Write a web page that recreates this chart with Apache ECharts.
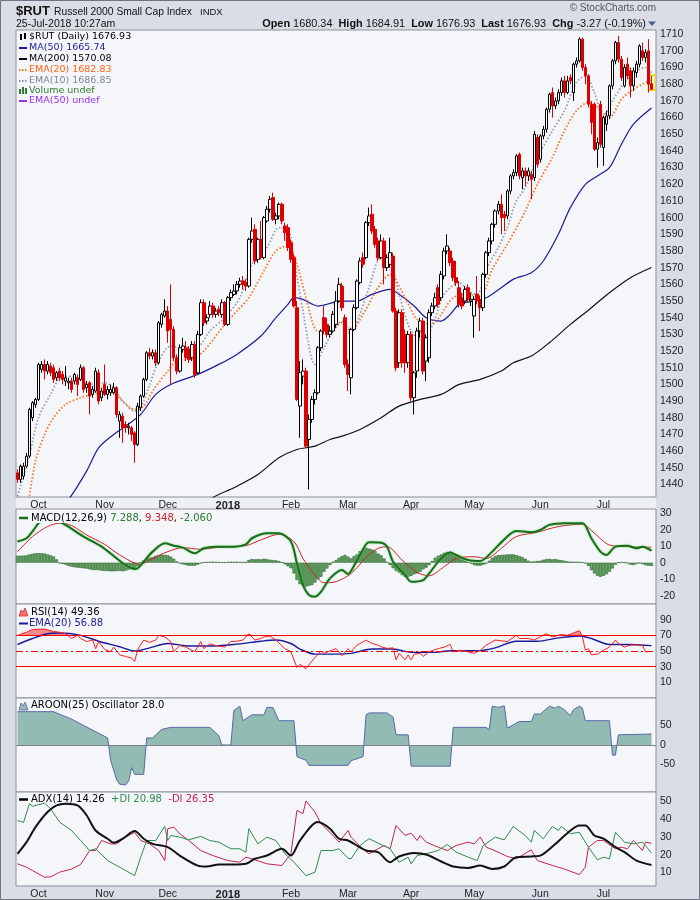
<!DOCTYPE html>
<html><head><meta charset="utf-8">
<script src="https://cdn.jsdelivr.net/npm/echarts@6/dist/echarts.min.js"></script>
<style>html,body{margin:0;padding:0;background:#d9dde6;}#c{width:700px;height:900px;}</style>
</head><body><div id="c"></div>
<script>
// ---- trading calendar ----
const firstDay = '2017-09-21', lastDay = '2018-07-25';
const holidays = ['2017-11-23','2017-12-25','2018-01-01','2018-01-15','2018-02-19','2018-03-30','2018-05-28','2018-07-04'];
const monthNames = ['2018','Feb','Mar','Apr','May','Jun','Jul','Aug','Sep','Oct','Nov','Dec'];
const dates = [];
(function(){
  let d = new Date(firstDay + 'T00:00:00Z'); const end = new Date(lastDay + 'T00:00:00Z');
  while (d <= end) { const s = d.toISOString().slice(0,10); const w = d.getUTCDay();
    if (w !== 0 && w !== 6 && holidays.indexOf(s) < 0) dates.push(s);
    d = new Date(d.getTime() + 86400000); }
})();

// ---- daily candles [open, high, low, close] ----
const candles = [
[1447,1449,1441,1443],[1443,1452,1441,1451],[1445,1453,1443,1451],[1451,1459,1450,1457],[1457,1486,1456,1485],
[1480,1490,1478,1489],[1488,1492,1486,1491],[1491,1513,1490,1512],[1509,1514,1507,1512],[1512,1515,1503,1508],
[1508,1514,1506,1512],[1511,1513,1505,1507],[1510,1512,1501,1503],[1504,1508,1502,1507],[1508,1510,1502,1504],
[1506,1508,1500,1503],[1502,1511,1499,1504],[1501,1504,1497,1502],[1502,1504,1495,1497],[1502,1507,1500,1506],
[1504,1506,1493,1500],[1503,1512,1502,1510],[1510,1511,1495,1497],[1498,1502,1495,1500],[1501,1502,1482,1493],
[1494,1499,1492,1497],[1496,1510,1495,1508],[1507,1509,1488,1490],[1492,1498,1490,1496],[1500,1512,1493,1494],
[1494,1499,1491,1497],[1495,1500,1493,1497],[1495,1501,1494,1498],[1498,1499,1480,1482],[1478,1484,1468,1482],
[1481,1483,1465,1474],[1476,1478,1471,1474],[1474,1477,1470,1475],[1474,1475,1466,1470],[1471,1472,1453,1464],
[1464,1489,1463,1487],[1486,1494,1484,1493],[1493,1504,1492,1503],[1503,1520,1502,1519],[1519,1522,1515,1517],
[1517,1521,1515,1519],[1519,1521,1511,1513],[1513,1538,1512,1537],[1536,1543,1534,1542],[1541,1551,1540,1544],
[1544,1547,1525,1532],[1539,1560,1500,1533],[1533,1535,1514,1516],[1516,1518,1506,1508],[1508,1524,1507,1522],
[1521,1528,1519,1523],[1522,1526,1514,1516],[1521,1523,1513,1515],[1516,1526,1514,1524],[1524,1526,1504,1506],
[1507,1532,1506,1530],[1530,1551,1529,1549],[1549,1551,1535,1537],[1538,1542,1536,1540],[1542,1550,1540,1547],
[1547,1549,1540,1542],[1542,1546,1540,1544],[1545,1547,1541,1543],[1542,1551,1540,1549],[1549,1550,1535,1536],
[1536,1553,1535,1552],[1552,1557,1550,1555],[1554,1560,1553,1556],[1556,1562,1554,1560],[1560,1564,1558,1562],
[1562,1565,1557,1560],[1561,1563,1556,1559],[1559,1588,1558,1587],[1587,1600,1585,1592],[1593,1596,1572,1574],
[1575,1588,1573,1587],[1587,1598,1575,1576],[1576,1601,1575,1600],[1598,1607,1597,1605],[1605,1613,1603,1611],
[1612,1615,1598,1599],[1599,1603,1596,1601],[1601,1609,1599,1608],[1608,1609,1596,1598],[1595,1597,1586,1591],
[1594,1596,1580,1582],[1585,1587,1573,1575],[1576,1578,1546,1547],[1546,1550,1490,1491],[1487,1514,1468,1507],
[1505,1515,1500,1508],[1508,1510,1462,1463],[1467,1482,1437,1479],[1479,1493,1477,1491],[1491,1497,1488,1495],
[1495,1523,1494,1522],[1522,1533,1520,1532],[1540,1547,1530,1532],[1536,1540,1528,1530],[1530,1535,1528,1532],
[1532,1544,1531,1542],[1536,1556,1534,1550],[1550,1564,1549,1560],[1559,1561,1544,1546],[1540,1542,1510,1512],
[1512,1515,1496,1506],[1504,1534,1494,1533],[1533,1548,1532,1546],[1546,1563,1545,1562],[1561,1576,1560,1574],
[1576,1579,1570,1572],[1576,1598,1575,1597],[1597,1606,1595,1601],[1602,1608,1590,1592],[1593,1595,1582,1584],
[1586,1588,1574,1576],[1576,1590,1575,1586],[1586,1588,1560,1570],[1570,1578,1568,1576],[1572,1588,1570,1579],
[1577,1579,1543,1544],[1544,1546,1508,1510],[1513,1545,1510,1543],[1543,1545,1510,1513],[1530,1533,1507,1513],
[1513,1532,1510,1530],[1530,1532,1490,1492],[1492,1508,1482,1507],[1508,1534,1504,1532],[1532,1540,1528,1538],
[1538,1540,1506,1508],[1514,1530,1502,1528],[1516,1545,1513,1543],[1543,1549,1541,1547],[1547,1555,1545,1552],
[1558,1560,1546,1548],[1552,1568,1550,1566],[1565,1582,1563,1580],[1580,1590,1578,1583],[1580,1582,1571,1573],
[1574,1576,1562,1564],[1564,1574,1559,1561],[1558,1562,1546,1548],[1552,1555,1545,1547],[1550,1559,1548,1557],
[1558,1560,1549,1551],[1550,1555,1547,1551],[1541,1553,1528,1551],[1554,1565,1548,1550],[1551,1553,1532,1546],
[1546,1567,1544,1566],[1566,1580,1564,1579],[1579,1588,1577,1586],[1586,1597,1584,1596],[1596,1605,1594,1604],
[1604,1610,1602,1608],[1608,1614,1590,1600],[1602,1604,1592,1600],[1601,1617,1599,1616],[1616,1626,1614,1625],
[1625,1629,1623,1627],[1627,1638,1625,1637],[1638,1639,1623,1625],[1624,1630,1617,1628],[1628,1630,1619,1625],
[1625,1630,1622,1628],[1626,1628,1611,1623],[1624,1652,1622,1650],[1648,1650,1630,1632],[1635,1650,1633,1649],
[1649,1655,1647,1653],[1653,1666,1651,1665],[1665,1675,1663,1674],[1675,1678,1660,1667],[1667,1672,1665,1670],
[1670,1677,1668,1675],[1675,1684,1673,1682],[1682,1685,1672,1675],[1675,1685,1674,1682],[1684,1686,1680,1682],
[1675,1693,1670,1692],[1692,1696,1690,1694],[1694,1708,1693,1707],[1707,1708,1688,1690],[1690,1692,1680,1685],
[1685,1686,1666,1668],[1668,1670,1650,1657],[1668,1669,1640,1641],[1641,1648,1630,1645],[1668,1670,1642,1644],
[1642,1661,1631,1660],[1656,1664,1652,1661],[1661,1680,1659,1679],[1679,1695,1677,1694],[1694,1706,1692,1705],
[1705,1709,1693,1695],[1695,1697,1682,1684],[1679,1692,1678,1690],[1692,1696,1683,1685],[1688,1690,1672,1679],
[1679,1690,1676,1688],[1687,1694,1684,1692],[1692,1704,1690,1703],[1700,1705,1694,1696],[1696,1701,1693,1699],
[1700,1707,1675,1680],[1680.34,1684.91,1676.93,1676.93]
];

// ---- overlay readings [dayIndex, value] ----
const ma50Pts = [[12,1422],[17,1431],[23,1448],[27,1462],[32,1470],[36,1475],[41,1482],[46,1494],[51,1500],[60,1506],[67,1512],[73,1518],[81,1529],[86,1540],[90,1548],[92,1552],[95,1551],[100,1547],[105,1549],[108,1550],[113,1550],[118,1554],[124,1557],[127,1554],[132,1547],[136,1540],[141,1538],[144,1542],[147,1548],[152,1550],[156,1552],[161,1558],[165,1563],[171,1567],[175,1574],[180,1590],[184,1606],[189,1620],[193,1625],[197,1630],[201,1644],[205,1656],[211,1665.74]];
const ma200Pts = [[58,1418],[65,1432],[72,1438],[80,1446],[87,1456],[93,1461],[99,1463],[104,1467],[108,1469],[114,1473],[121,1480],[127,1487],[134,1491],[141,1494],[147,1500],[154,1503],[161,1508],[165,1513],[171,1517],[177,1525],[184,1536],[191,1546],[197,1555],[204,1564],[211,1570.08]];
const ema20Pts = [[3,1425],[4,1434],[6,1454],[9,1470],[12,1480],[16,1488],[21,1492],[25,1494],[31,1496],[35,1490],[39,1485],[42,1487],[45,1496],[50,1508],[53,1514],[58,1515],[62,1520],[69,1536],[73,1544],[77,1552],[82,1568],[86,1580],[90,1583],[93,1572],[96,1552],[100,1532],[104,1532],[108,1537],[111,1532],[115,1542],[120,1558],[124,1566],[129,1552],[133,1539],[138,1536],[141,1542],[145,1552],[150,1554],[154,1553],[158,1569],[163,1584],[167,1597],[169,1604],[173,1620],[178,1636],[182,1652],[186,1664],[190,1669],[193,1666],[197,1660],[201,1671],[205,1677],[211,1682.83]];
const ema10Pts = [[0,1433],[4,1458],[7,1480],[11,1494],[15,1505],[20,1504],[24,1500],[29,1501],[32,1498],[35,1490],[39,1484],[41,1486],[44,1500],[47,1514],[51,1523],[56,1521],[60,1522],[64,1532],[69,1540],[74,1552],[78,1572],[83,1582],[87,1594],[90,1593],[92,1576],[95,1544],[99,1512],[102,1522],[106,1535],[108,1538],[110,1531],[112,1533],[117,1558],[121,1576],[124,1574],[127,1554],[131,1532],[135,1526],[139,1540],[142,1554],[147,1561],[150,1556],[153,1554],[156,1569],[160,1582],[163,1594],[166,1610],[169,1618],[173,1636],[178,1652],[182,1664],[186,1681],[189,1685],[192,1675],[195,1661],[198,1670],[202,1681],[206,1688],[209,1690],[211,1686.85]];

// ---- MACD(12,26,9) ----
const macdPts = [[0,12.8],[3,14.8],[5,19],[7,23.9],[9,27.5],[11,29],[13,26.5],[14,24.9],[16,22.9],[22,15.8],[28,9.7],[33,2.6],[36,-1.4],[39,-3.8],[40,-3.4],[42,0.6],[45,6.7],[49,11.7],[52,10.3],[55,9.1],[59,5.7],[62,8.7],[66,9.7],[72,9.7],[76,11.1],[78,14.8],[83,17.8],[87,17.8],[91,12.8],[93,-0.4],[95,-13.5],[97,-19.6],[99,-20.6],[101,-17.6],[104,-9.5],[108,-4.4],[110,-6.8],[111,-5],[114,4.7],[117,12.3],[121,12.1],[123,9.7],[125,0.6],[129,-7.5],[131,-11.5],[135,-10.5],[137,-6.5],[141,2.6],[144,6.1],[146,4.7],[150,1.6],[154,1],[158,6.7],[161,12.3],[166,19.2],[171,18.4],[174,19.8],[177,22.9],[182,23.9],[188,23.9],[191,14.8],[194,6.7],[196,4.7],[199,9.7],[203,10.3],[206,8.7],[208,9.7],[211,7.288]];
const signalPts = [[0,6.7],[5,15.8],[10,21.9],[14,23.9],[18,22.5],[23,16.8],[29,11.1],[34,4.7],[41,-1],[44,1.6],[50,6.7],[55,9.1],[61,8.1],[66,9.1],[76,10.3],[81,13.8],[87,17.2],[92,12.8],[95,2.6],[99,-7.5],[102,-12.1],[105,-11.9],[110,-7.9],[113,-3],[116,3.2],[120,8.7],[123,9.7],[128,1.6],[133,-5.9],[137,-7.9],[142,-2.4],[146,2.6],[152,3.6],[156,2.6],[161,8.7],[166,15.8],[173,18.4],[180,21.9],[188,23.3],[192,17.8],[197,10.7],[203,9.7],[211,9.348]];
const macdHist = [
4.2,4.2,4.3,4.4,5.0,5.4,5.7,5.8,5.7,5.5, 5.0,4.5,3.8,2.0,-0.3,-0.8,-1.2,-2.0,-2.4,-2.8,
-3.0,-3.2,-3.4,-3.6,-4.0,-4.4,-4.4,-4.5,-4.8,-5.0, -5.0,-5.2,-5.2,-5.0,-5.0,-5.2,-4.8,-4.2,-3.8,
-3.4,-2.2,0.0,1.4,2.6,3.0,3.4,4.2,4.7,4.9,4.7,
4.5,3.7,2.4,0.8,-0.4,-1.0,-1.4,-1.8,-1.8,-1.8, -1.2,-0.4,0.2,0.4,0.5,0.6,0.5,0.3,0.2,0.2,
0.4,0.5,0.5,0.6,0.4,0.3,0.5,1.6,2.2,2.0, 2.2,2.0,2.4,2.2,1.8,1.6,1.4,1.0,0.2,-1.0,
-2.2,-3.4,-6.5,-10.5,-13.0,-14.0,-14.5,-14.0,-13.5,-12.0, -10.0,-8.5,-5.5,-3.5,-1.4,0.6,1.6,3.0,4.0,4.7,
3.7,2.6,4.0,5.0,7.0,8.0,9.1,8.5,8.0,7.0, 5.5,4.5,2.6,0.5,-1.5,-3.4,-5.0,-6.0,-7.5,-8.5,
-8.5,-8.0,-7.0,-6.5,-5.5,-4.0,-3.0,-1.4,1.0,3.0, 4.2,5.0,6.0,6.5,6.7,5.5,4.5,3.0,2.0,1.2,
0.3,-0.5,-1.5,-1.8,-1.8,-1.2,-0.5,1.2,3.0,4.0, 4.5,4.7,4.8,5.0,5.1,5.0,4.6,4.0,3.4,2.4,
1.2,0.6,0.8,1.0,1.2,1.8,2.2,2.3,2.0,2.2, 1.8,1.5,1.2,0.8,0.6,0.6,0.5,0.4,0.2,-0.4,
-2.0,-4.5,-6.5,-8.0,-8.5,-8.0,-7.0,-5.5,-3.5,-1.2, 0.2,0.4,0.2,-0.4,-1.2,-1.4,-0.8,-0.3,-0.8,-1.5,
-1.8,-2.06];

// ---- RSI(14) and its EMA(20) ----
const rsiPts = [[0,70],[3,74],[5,77.5],[9,78],[12,75],[14,74],[16,72],[18,66],[20,70],[21,66],[23,62],[25,64],[26,53],[27,62],[29,52],[31,49],[32,55],[34,45],[36,43],[38,41],[39,36.7],[40,52],[42,64],[44,61],[46,64],[47,70],[49,68],[51,62],[52,49],[54,57],[56,55],[59,49],[61,62],[62,53],[64,59],[66,57],[69,55],[71,62],[73,62.5],[75,64],[77,72],[79,64],[81,66],[82,68],[84,69],[86,64],[89,53],[91,49],[93,29],[94,33],[96,27.5],[97,32.5],[99,41.7],[101,50],[102,47],[104,50],[106,53],[108,44],[110,53],[111,49],[113,57.5],[115,61.7],[116,64],[118,59.6],[120,57.5],[121,55.4],[123,53.3],[125,54],[126,38.7],[127,47],[129,38.7],[130,45],[131,38.7],[132,46],[134,47],[135,43],[137,49],[140,53],[142,55],[144,58.3],[145,49],[147,51],[150,49],[152,47],[154,51],[156,57.5],[159,64],[163,62],[166,70],[167,66],[170,66],[172,64],[174,68],[176,72],[178,68],[181,71],[183,70],[185,73],[187,76],[188,68],[189,51],[190,53],[191,45],[193,46],[195,51],[197,55],[199,64],[200,59.6],[202,55],[204,57.5],[206,58],[208,57],[209,49],[211,49.36]];
const rsiEmaPts = [[0,58.3],[5,66],[10,72],[14,72.9],[21,70],[27,62.5],[34,55.4],[39,50],[44,54],[50,59.6],[56,56.7],[63,56.3],[72,58.3],[81,62.5],[86,64],[91,59.6],[94,52.5],[99,46],[105,46],[111,47],[118,52.5],[125,52.5],[131,48.3],[139,48.3],[144,50.4],[153,50.4],[159,54],[166,62.5],[173,62.5],[180,66.7],[187,69.2],[191,66],[197,58.3],[203,58.3],[211,56.88]];

// ---- Aroon(25) oscillator ----
const aroonPts = [[0,85],[12,85],[18,66],[30,18],[31,-40],[32,-64],[33,-89],[34,-100],[36,-102],[37,-92],[38,-58],[39,-75],[42,-75],[43,18],[45,18],[46,26],[48,40],[51,45],[64,45],[67,24],[68,0],[71,0],[72,88],[74,99],[75,62],[78,77],[82,77],[83,96],[85,96],[87,62],[92,62],[93,-30],[96,-39],[97,-52],[110,-52],[111,-40],[115,-30],[116,77],[117,82],[123,82],[125,71],[126,26],[130,26],[131,-54],[144,-54],[145,45],[156,45],[157,39],[158,99],[160,96],[162,100],[163,43],[167,60],[171,60],[172,79],[174,79],[177,99],[179,94],[180,99],[182,90],[184,75],[185,90],[187,99],[188,94],[189,62],[197,62],[198,-26],[199,-26],[200,26],[211,28]];

// ---- ADX(14), +DI, -DI ----
const adxPts = [[0,20.5],[3,27],[6,35.4],[10,43.8],[13,47.5],[16,48.5],[20,47.5],[23,42],[26,33.5],[30,28.9],[32,26.6],[35,28.9],[39,33.2],[42,28.9],[45,26],[50,24.2],[54,19.5],[60,13.9],[63,13.4],[67,14.5],[72,14.5],[76,14.9],[79,17.7],[83,19.5],[88,23.3],[91,19.5],[94,27.9],[100,38.2],[104,34.5],[107,28.9],[110,27.9],[116,22.3],[120,21.4],[124,15.8],[127,19],[132,21],[136,20.1],[141,16.2],[145,13.4],[150,12.6],[154,13.9],[158,12],[162,13.4],[166,18.6],[171,19],[174,19.5],[179,26],[183,32],[187,36.3],[189,36.3],[192,30.7],[195,28.9],[199,24.2],[202,21.4],[206,16.7],[211,14.26]];
const plusDiPts = [[0,39.1],[2,38],[4,48.5],[5,47],[9,48.8],[11,45.7],[14,38.2],[18,33.5],[21,27.9],[24,22.3],[26,23.3],[30,16.7],[33,13.9],[36,11.1],[39,8.3],[41,18.6],[43,27.9],[46,27.9],[49,35.8],[50,27.9],[51,30.7],[54,29.8],[57,28.3],[61,30.2],[64,27.9],[67,27],[71,23.3],[74,23.3],[76,21.4],[77,34.5],[80,26],[83,29.8],[86,27.9],[89,20.5],[92,15.8],[96,8.3],[99,10.2],[101,22.3],[105,22.3],[107,23.3],[110,18],[111,17.7],[114,25.1],[117,28.9],[121,25.7],[124,23.3],[127,15.8],[130,18.6],[131,14.9],[133,19.5],[136,20.5],[140,22.3],[143,25.7],[146,21.4],[150,18.6],[153,16.7],[155,25.1],[159,29.8],[162,28.3],[165,35.8],[169,30.7],[171,27],[172,33.5],[175,28.9],[178,35.8],[180,33.5],[181,35.8],[184,31.7],[187,32.5],[190,24.2],[193,17.1],[195,18.6],[197,17.7],[199,32.5],[202,27],[205,26],[208,27],[209,25],[211,20.98]];
const minusDiPts = [[0,14.9],[3,13],[5,11.1],[9,7.4],[11,7.6],[14,10.2],[18,12],[21,14.5],[24,22.3],[26,22.3],[28,27.9],[31,26],[33,26],[36,29.8],[39,32.5],[41,27.9],[44,26],[47,22.3],[49,16.7],[50,34.5],[52,35.4],[54,31.7],[57,27.9],[61,22.3],[65,19.5],[70,16.7],[74,15.8],[76,18.6],[78,17.7],[83,14.9],[88,13.9],[91,20.5],[93,44.7],[95,42.9],[96,50],[99,43.8],[101,37.3],[104,32.5],[107,27],[110,33.5],[111,29.8],[114,24.6],[117,20.5],[120,23.3],[122,25.1],[124,23.3],[126,36.3],[129,30.7],[131,32],[133,27.9],[134,30.7],[136,27],[140,24.2],[143,22.3],[146,25.1],[150,27],[152,26],[154,29.8],[156,24.2],[160,21.4],[163,19],[166,17.7],[171,22.7],[173,16.7],[178,14],[182,12],[187,8.9],[189,13],[190,24.2],[193,27.9],[195,27.9],[199,23.3],[201,24.2],[203,23.3],[205,27.9],[208,22.3],[209,27],[211,26.35]];

// ---------------- chart ----------------
const categories = dates.concat(['']);
const FONT = 'Liberation Sans, Arial, sans-serif';
const LFONT = 'DejaVu Sans, Verdana, sans-serif';
const PANEL_BG = '#f5f6fa';
const L = 16, W = 640;
const grids = [
  {left:L, top:30, width:W, height:467},
  {left:L, top:509, width:W, height:95},
  {left:L, top:604, width:W, height:94},
  {left:L, top:698, width:W, height:94},
  {left:L, top:792, width:W, height:95}
].map(g => Object.assign(g, {show:true, backgroundColor:PANEL_BG, borderColor:'#8c919b', borderWidth:1}));

function monthStart(idx){ return idx > 0 && idx < dates.length && dates[idx].slice(5,7) !== dates[idx-1].slice(5,7); }
function xAx(i, showLabels){
  return {type:'category', gridIndex:i, data:categories, boundaryGap:true,
    axisLine:{show:false}, axisTick:{show:false}, splitLine:{show:false},
    axisLabel:{show:showLabels, interval:(idx)=>monthStart(idx), margin:3, fontSize:10.5, color:'#222', fontFamily:FONT,
      formatter:(v)=>{ const m = parseInt(v.slice(5,7),10); return m===1 ? '{b|2018}' : monthNames[m-1]; },
      rich:{b:{fontWeight:'bold', fontSize:11, fontFamily:FONT, color:'#222'}}}};
}
function yAx(i, min, max, interval, show){
  return {type:'value', gridIndex:i, position:'right', min, max, interval, scale:false,
    axisLine:{show:false}, axisTick:{show:false}, splitLine:{show:false},
    axisLabel:{margin:4, fontSize:10.5, color:'#222', fontFamily:FONT, showMinLabel:true, showMaxLabel:true,
      formatter:(v)=> show(v) ? String(Math.round(v)) : ''}};
}
const near = (v, s) => Math.abs(v/s - Math.round(v/s)) < 1e-6;

const candleData = candles.map(r => [r[0], r[3], r[2], r[1]]);
const lastC = candles[candles.length-1];
const rsiBase = rsiPts.map(p => [p[0], 70]);
const rsiOver = rsiPts.map(p => [p[0], Math.max(p[1]-70, 0)]);

function lineS(data, xi, color, width, opts){
  return Object.assign({type:'line', xAxisIndex:xi, yAxisIndex:xi, data, showSymbol:false, symbol:'none',
    lineStyle:{color, width}, z:3, clip:true}, opts||{});
}
function legendText(x, y, text, color, rich){
  return {type:'text', x, y, z:100, style:{text, font:'10px '+LFONT, fill:color, verticalAlign:'middle',
    backgroundColor:PANEL_BG, padding:[0,2,0,0], rich:rich||{}}};
}

const option = {
  animation:false,
  backgroundColor:'#d9dde6',
  grid: grids,
  xAxis:[xAx(0,true), xAx(1,false), xAx(2,false), xAx(3,false), xAx(4,true)],
  yAxis:[
    yAx(0,1432.5,1712.5,2.5,v=>near(v,10)),
    yAx(1,-25,32.5,2.5,v=>near(v,10)),
    yAx(2,-10,110,20,v=>v>0&&v<100),
    yAx(3,-120,120,10,v=>v===50||v===0||v===-50),
    yAx(4,2.5,55,2.5,v=>near(v,10))
  ],
  series:[
    lineS(ma200Pts,0,'#111',1.2,{smooth:0.3}),
    lineS(ma50Pts,0,'#1c1c9a',1.2,{smooth:0.3}),
    lineS(ema20Pts,0,'#ff7020',1.8,{smooth:0.3, lineStyle:{color:'#ff7020', width:1.8, type:[1.5,2]}}),
    lineS(ema10Pts,0,'#939ca8',1.8,{smooth:0.3, lineStyle:{color:'#939ca8', width:1.8, type:[1.5,2]}}),
    {type:'candlestick', xAxisIndex:0, yAxisIndex:0, data:candleData, barWidth:3, z:4,
      itemStyle:{color:'#ffffff', color0:'#dd0000', borderColor:'#000000', borderColor0:'#dd0000', borderWidth:1},
      markPoint:{symbol:'rect', symbolSize:[7,15], silent:true, label:{show:false}, z:1,
        itemStyle:{color:'rgba(255,250,120,0.45)', borderColor:'#e8d400', borderWidth:1.2},
        data:[{coord:[candles.length-1, (lastC[1]+lastC[2])/2]}]}},
    // MACD
    {type:'bar', xAxisIndex:1, yAxisIndex:1, data:macdHist, barWidth:3,
      itemStyle:{color:'#64a464', borderColor:'#2a632a', borderWidth:0.6}},
    lineS(signalPts,1,'#d42020',1,{smooth:0.3}),
    lineS(macdPts,1,'#17701a',2,{smooth:0.3, lineStyle:{color:'#17701a', width:2, shadowColor:'rgba(110,200,110,0.8)', shadowBlur:2}}),
    // RSI
    {type:'line', xAxisIndex:2, yAxisIndex:2, data:rsiBase, stack:'ob', symbol:'none', lineStyle:{opacity:0}, z:2},
    {type:'line', xAxisIndex:2, yAxisIndex:2, data:rsiOver, stack:'ob', symbol:'none', lineStyle:{opacity:0}, areaStyle:{color:'#f28a8a', opacity:1}, z:2},
    lineS(rsiEmaPts,2,'#1a1a9c',1.4,{smooth:0.3}),
    lineS(rsiPts,2,'#ff1e1e',1,{z:4, markLine:{silent:true, symbol:'none', label:{show:false},
      data:[{yAxis:70, lineStyle:{color:'#ff0000', width:1.2, type:'solid'}},
            {yAxis:30, lineStyle:{color:'#ff0000', width:1.2, type:'solid'}},
            {yAxis:50, lineStyle:{color:'#ff0000', width:1, type:[7,3,2,3]}}]}}),
    // Aroon
    lineS(aroonPts,3,'#5868a8',1,{areaStyle:{color:'#92bbb3', opacity:1}, z:3,
      markLine:{silent:true, symbol:'none', label:{show:false}, data:[{yAxis:0, lineStyle:{color:'#7d8088', width:1, type:'solid'}}]}}),
    // ADX
    lineS(minusDiPts,4,'#c4234d',1),
    lineS(plusDiPts,4,'#2e8b4e',1),
    lineS(adxPts,4,'#111111',2,{smooth:0.3})
  ],
  graphic:[
    {type:'rect', shape:{x:0.5,y:0.5,width:699,height:899}, style:{fill:'none', stroke:'#6f7480', lineWidth:1}, z:-1},
    {type:'rect', shape:{x:L,y:497,width:W,height:12}, style:{fill:'#eef0f5'}, z:-1},
    {type:'text', x:16, y:11, style:{text:'$RUT', font:'bold 13px '+FONT, fill:'#111', verticalAlign:'middle'}},
    {type:'text', x:54, y:12, style:{text:'Russell 2000 Small Cap Index', font:'10.3px '+FONT, fill:'#111', verticalAlign:'middle'}},
    {type:'text', x:200, y:12, style:{text:'INDX', font:'9.5px '+FONT, fill:'#111', verticalAlign:'middle'}},
    {type:'text', x:16, y:24, style:{text:'25-Jul-2018 10:27am', font:'10.5px '+FONT, fill:'#111', verticalAlign:'middle'}},
    {type:'text', x:656, y:8, style:{text:'© StockCharts.com', font:'10px '+FONT, fill:'#555', align:'right', verticalAlign:'middle'}},
    {type:'text', x:646, y:24, style:{text:'{b|Open} 1680.34  {b|High} 1684.91  {b|Low} 1676.93  {b|Last} 1676.93  {b|Chg} -3.27 (-0.19%)',
      font:'10.9px '+FONT, fill:'#111', align:'right', verticalAlign:'middle', rich:{b:{font:'bold 10.9px '+FONT, fill:'#111'}}}},
    {type:'polygon', shape:{points:[[648,21.5],[656,21.5],[652,26]]}, style:{fill:'#4a5d8a'}},
    // main legend
    {type:'rect', shape:{x:20,y:34,width:2,height:6}, style:{fill:'#000'}},
    {type:'rect', shape:{x:24,y:33,width:2,height:6}, style:{fill:'#000'}},
    {type:'text', x:29, y:37, style:{text:'$RUT (Daily) 1676.93', font:'9.5px '+LFONT, fill:'#000', verticalAlign:'middle'}},
    {type:'line', shape:{x1:19,y1:48,x2:27,y2:48}, style:{stroke:'#1c1c9a', lineWidth:2}},
    {type:'text', x:29, y:48, style:{text:'MA(50) 1665.74', font:'9.5px '+LFONT, fill:'#1c1c9a', verticalAlign:'middle'}},
    {type:'line', shape:{x1:19,y1:59,x2:27,y2:59}, style:{stroke:'#000', lineWidth:2}},
    {type:'text', x:29, y:59, style:{text:'MA(200) 1570.08', font:'9.5px '+LFONT, fill:'#000', verticalAlign:'middle'}},
    {type:'line', shape:{x1:19,y1:70,x2:27,y2:70}, style:{stroke:'#ff7020', lineWidth:2, lineDash:[1.5,1.5]}},
    {type:'text', x:29, y:70, style:{text:'EMA(20) 1682.83', font:'9.5px '+LFONT, fill:'#ff6010', verticalAlign:'middle'}},
    {type:'line', shape:{x1:19,y1:81,x2:27,y2:81}, style:{stroke:'#8c95a2', lineWidth:2, lineDash:[1.5,1.5]}},
    {type:'text', x:29, y:81, style:{text:'EMA(10) 1686.85', font:'9.5px '+LFONT, fill:'#7f8894', verticalAlign:'middle'}},
    {type:'rect', shape:{x:19,y:89,width:2,height:5}, style:{fill:'#2f7d2f'}},
    {type:'rect', shape:{x:22,y:87,width:2,height:7}, style:{fill:'#2f7d2f'}},
    {type:'rect', shape:{x:25,y:88,width:2,height:6}, style:{fill:'#2f7d2f'}},
    {type:'text', x:29, y:91, style:{text:'Volume undef', font:'9.5px '+LFONT, fill:'#2f7d2f', verticalAlign:'middle'}},
    {type:'line', shape:{x1:19,y1:101,x2:27,y2:101}, style:{stroke:'#9b30ef', lineWidth:2}},
    {type:'text', x:29, y:101, style:{text:'EMA(50) undef', font:'9.5px '+LFONT, fill:'#9b30ef', verticalAlign:'middle'}},
    // MACD legend
    {type:'rect', shape:{x:17,y:512,width:14,height:12}, style:{fill:PANEL_BG}, z:99},
    {type:'line', shape:{x1:19,y1:518,x2:28,y2:518}, style:{stroke:'#17701a', lineWidth:2.5}, z:100},
    legendText(31, 518, 'MACD(12,26,9) {g|7.288}, {r|9.348}, {g|-2.060}', '#000',
      {g:{fill:'#2c7a2c', font:'10px '+LFONT}, r:{fill:'#c81e1e', font:'10px '+LFONT}}),
    // RSI legend
    {type:'polygon', shape:{points:[[19,616],[21,610],[23,612],[25,608],[28,616]]}, style:{fill:'#f07070', stroke:'#e03030', lineWidth:0.8}},
    {type:'text', x:31, y:612.5, style:{text:'RSI(14) 49.36', font:'10px '+LFONT, fill:'#000', verticalAlign:'middle'}},
    {type:'line', shape:{x1:19,y1:623.5,x2:28,y2:623.5}, style:{stroke:'#1a1a9c', lineWidth:2}},
    {type:'text', x:29, y:623.5, style:{text:'EMA(20) 56.88', font:'10px '+LFONT, fill:'#1a1a9c', verticalAlign:'middle'}},
    // Aroon legend
    {type:'polygon', shape:{points:[[19,710],[21,703],[23,706],[25,702],[28,710]]}, style:{fill:'#92bbb3', stroke:'#5868a8', lineWidth:0.8}},
    {type:'text', x:31, y:705.5, style:{text:'AROON(25) Oscillator 28.0', font:'10px '+LFONT, fill:'#000', verticalAlign:'middle'}},
    // ADX legend
    {type:'line', shape:{x1:19,y1:799.5,x2:28,y2:799.5}, style:{stroke:'#000', lineWidth:2.5}},
    {type:'text', x:31, y:799.5, style:{text:'ADX(14) 14.26  {g|+DI 20.98}  {r|-DI 26.35}', font:'10px '+LFONT, fill:'#000', verticalAlign:'middle',
      rich:{g:{fill:'#2e8b4e', font:'10px '+LFONT}, r:{fill:'#c4234d', font:'10px '+LFONT}}}}
  ]
};
const chart = echarts.init(document.getElementById('c'), null, {renderer:'canvas'});
chart.setOption(option);
</script></body></html>
